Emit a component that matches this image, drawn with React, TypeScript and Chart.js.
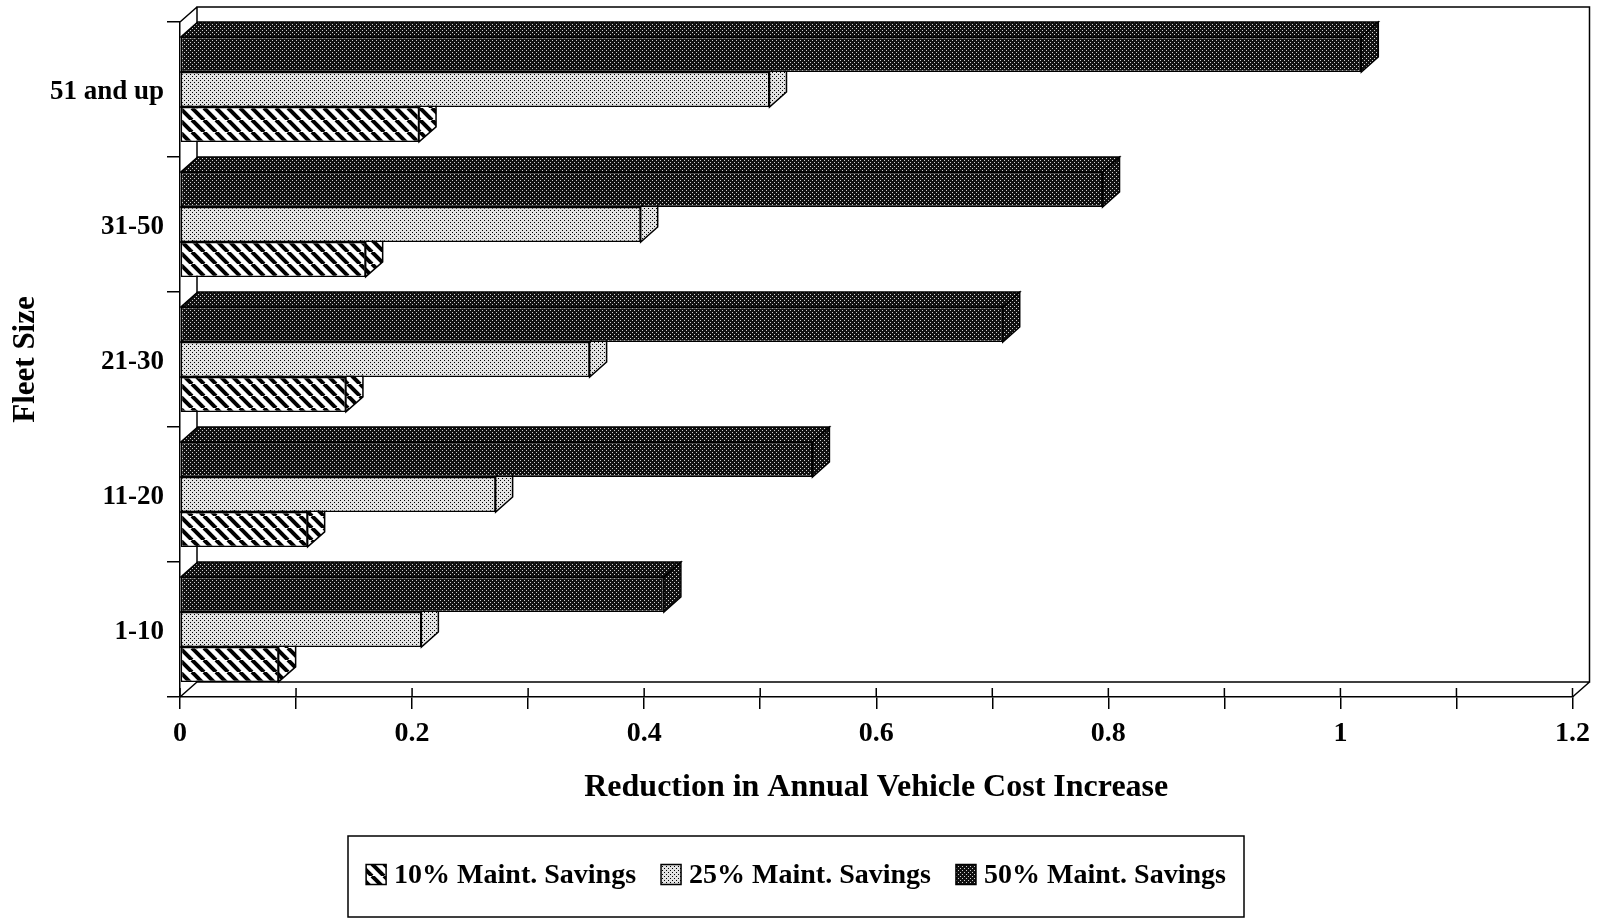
import React, { useEffect, useRef } from "react";
import { Chart, registerables } from "chart.js";

Chart.register(...registerables);

// ---- data ----
const categories = ["1-10", "11-20", "21-30", "31-50", "51 and up"];
const savings10 = [0.085, 0.11, 0.143, 0.16, 0.206];
const savings25 = [0.208, 0.272, 0.353, 0.397, 0.508];
const savings50 = [0.417, 0.545, 0.709, 0.795, 1.018];
const seriesNames = ["10% Maint. Savings", "25% Maint. Savings", "50% Maint. Savings"];
const xTickLabels = ["0", "0.2", "0.4", "0.6", "0.8", "1", "1.2"];
const xTitle = "Reduction in Annual Vehicle Cost Increase";
const yTitle = "Fleet Size";

const FONT = "'Liberation Serif', 'Times New Roman', serif";
const DX = 17;
const DY = -15;

function makeHatch(): CanvasPattern | string {
  const c = document.createElement("canvas");
  c.width = 12;
  c.height = 12;
  const g = c.getContext("2d")!;
  g.fillStyle = "#fff";
  g.fillRect(0, 0, 12, 12);
  g.strokeStyle = "#000";
  g.lineWidth = 4;
  for (const x of [-12, 0, 12]) {
    g.beginPath();
    g.moveTo(x, 0);
    g.lineTo(x + 12, 12);
    g.stroke();
  }
  return g.createPattern(c, "repeat") || "#888";
}

function makeDots(base: string, dot: string, pts: number[][]): CanvasPattern | string {
  const c = document.createElement("canvas");
  c.width = 4;
  c.height = 4;
  const g = c.getContext("2d")!;
  g.fillStyle = base;
  g.fillRect(0, 0, 4, 4);
  g.fillStyle = dot;
  for (const [x, y] of pts) g.fillRect(x, y, 1, 1);
  return g.createPattern(c, "repeat") || base;
}

export default function App() {
  const ref = useRef<HTMLCanvasElement | null>(null);

  useEffect(() => {
    const canvas = ref.current;
    if (!canvas) return;
    const hatch = makeHatch();
    const light = makeDots("#e2e2e2", "#000", [[0, 0], [2, 2]]);
    const dark = makeDots("#111", "#d0d0d0", [[0, 0], [2, 2]]);
    const fills = [hatch, light, dark];

    const threeD = {
      id: "threeD",
      beforeDatasetsDraw(chart: any) {
        const { ctx, chartArea: a } = chart;
        ctx.save();
        ctx.strokeStyle = "#000";
        ctx.lineWidth = 1.5;
        ctx.beginPath();
        // back wall
        ctx.moveTo(a.left + DX, a.bottom + DY);
        ctx.lineTo(a.left + DX, a.top + DY);
        ctx.lineTo(a.right + DX, a.top + DY);
        ctx.lineTo(a.right + DX, a.bottom + DY);
        ctx.lineTo(a.left + DX, a.bottom + DY);
        // top-left edge
        ctx.moveTo(a.left, a.top);
        ctx.lineTo(a.left + DX, a.top + DY);
        // floor diagonals
        ctx.moveTo(a.left, a.bottom);
        ctx.lineTo(a.left + DX, a.bottom + DY);
        ctx.moveTo(a.right, a.bottom);
        ctx.lineTo(a.right + DX, a.bottom + DY);
        ctx.stroke();
        ctx.restore();
      },
      afterDatasetDraw(chart: any, args: any) {
        const { ctx } = chart;
        const meta = args.meta;
        const ds = chart.data.datasets[args.index];
        ctx.save();
        ctx.strokeStyle = "#000";
        ctx.lineWidth = 1.5;
        ctx.lineJoin = "miter";
        for (const el of meta.data) {
          const p = el.getProps(["x", "y", "base", "height"], true);
          const top = p.y - p.height / 2;
          const bot = p.y + p.height / 2;
          const x0 = p.base;
          const x1 = p.x;
          ctx.fillStyle = ds.backgroundColor;
          // top face
          ctx.beginPath();
          ctx.moveTo(x0, top);
          ctx.lineTo(x0 + DX, top + DY);
          ctx.lineTo(x1 + DX, top + DY);
          ctx.lineTo(x1, top);
          ctx.closePath();
          ctx.fill();
          ctx.stroke();
          // right face
          ctx.beginPath();
          ctx.moveTo(x1, top);
          ctx.lineTo(x1 + DX, top + DY);
          ctx.lineTo(x1 + DX, bot + DY);
          ctx.lineTo(x1, bot);
          ctx.closePath();
          ctx.fill();
          ctx.stroke();
        }
        ctx.restore();
      },
      afterDraw(chart: any) {
        const { ctx, chartArea: a } = chart;
        const xs = chart.scales.x;
        ctx.save();
        ctx.strokeStyle = "#000";
        ctx.lineWidth = 1.5;
        // tick marks above the x axis
        ctx.beginPath();
        for (const t of xs.ticks) {
          const px = xs.getPixelForValue(t.value);
          ctx.moveTo(px, a.bottom - 9);
          ctx.lineTo(px, a.bottom);
        }
        ctx.stroke();
        // legend
        const bx = 348, by = 836, bw = 896, bh = 81;
        ctx.lineWidth = 1.5;
        ctx.strokeRect(bx, by, bw, bh);
        ctx.font = `bold 28px ${FONT}`;
        const sw = 20, sg = 8, ig = 25;
        const widths = seriesNames.map((s) => ctx.measureText(s).width);
        const total = widths.reduce((s, w) => s + w + sw + sg, 0) + ig * (seriesNames.length - 1);
        let cx = bx + bw / 2 - total / 2;
        const cy = by + bh / 2 - 2;
        seriesNames.forEach((name, i) => {
          ctx.fillStyle = fills[i] as any;
          ctx.fillRect(cx, cy - sw / 2, sw, sw);
          ctx.strokeRect(cx, cy - sw / 2, sw, sw);
          ctx.fillStyle = "#000";
          ctx.textBaseline = "middle";
          ctx.textAlign = "left";
          ctx.fillText(name, cx + sw + sg, cy + 1);
          cx += sw + sg + widths[i] + ig;
        });
        ctx.restore();
      },
    };

    const chart = new Chart(canvas, {
      type: "bar",
      data: {
        labels: categories,
        datasets: [
          { label: seriesNames[2], data: savings50, backgroundColor: dark as any },
          { label: seriesNames[1], data: savings25, backgroundColor: light as any },
          { label: seriesNames[0], data: savings10, backgroundColor: hatch as any },
        ].map((d) => ({
          ...d,
          borderColor: "#000",
          borderWidth: 1.5,
          borderSkipped: false,
          categoryPercentage: 0.7765,
          barPercentage: 1,
        })),
      },
      options: {
        indexAxis: "y",
        animation: false,
        responsive: false,
        devicePixelRatio: 1,
        layout: { padding: { top: 22, right: 19, left: 0, bottom: 0 } },
        plugins: {
          legend: { display: false },
          tooltip: { enabled: false },
        },
        scales: {
          x: {
            type: "linear",
            min: 0,
            max: 1.2,
            afterFit: (s: any) => {
              s.height = 221;
            },
            ticks: {
              stepSize: 0.1,
              autoSkip: false,
              maxRotation: 0,
              padding: 8,
              color: "#000",
              font: { family: FONT, weight: "bold", size: 28 },
              callback: (v: any) => {
                const r = Math.round(Number(v) * 10);
                return r % 2 === 0 ? xTickLabels[r / 2] : "";
              },
            },
            grid: { drawOnChartArea: false, tickLength: 12, color: "#000", lineWidth: 1.5 },
            border: { display: true, color: "#000", width: 1.5 },
            title: {
              display: true,
              text: xTitle,
              color: "#000",
              font: { family: FONT, weight: "bold", size: 32 },
              padding: { top: 0, bottom: 111 },
            },
          },
          y: {
            type: "category",
            reverse: true,
            afterFit: (s: any) => {
              s.width = 180;
            },
            ticks: {
              padding: 3,
              labelOffset: 3,
              color: "#000",
              font: { family: FONT, weight: "bold", size: 27 },
            },
            grid: { offset: true, drawOnChartArea: false, tickLength: 13, color: "#000", lineWidth: 1.5 },
            border: { display: true, color: "#000", width: 1.5 },
            title: {
              display: true,
              text: yTitle,
              color: "#000",
              font: { family: FONT, weight: "bold", size: 31 },
              padding: { top: 7, bottom: 0 },
            },
          },
        },
      },
      plugins: [threeD],
    } as any);

    return () => chart.destroy();
  }, []);

  return (
    <div style={{ position: "fixed", left: 0, top: 0, width: 1598, height: 918, background: "#fff" }}>
      <canvas ref={ref} width={1598} height={918} style={{ display: "block" }} />
    </div>
  );
}
